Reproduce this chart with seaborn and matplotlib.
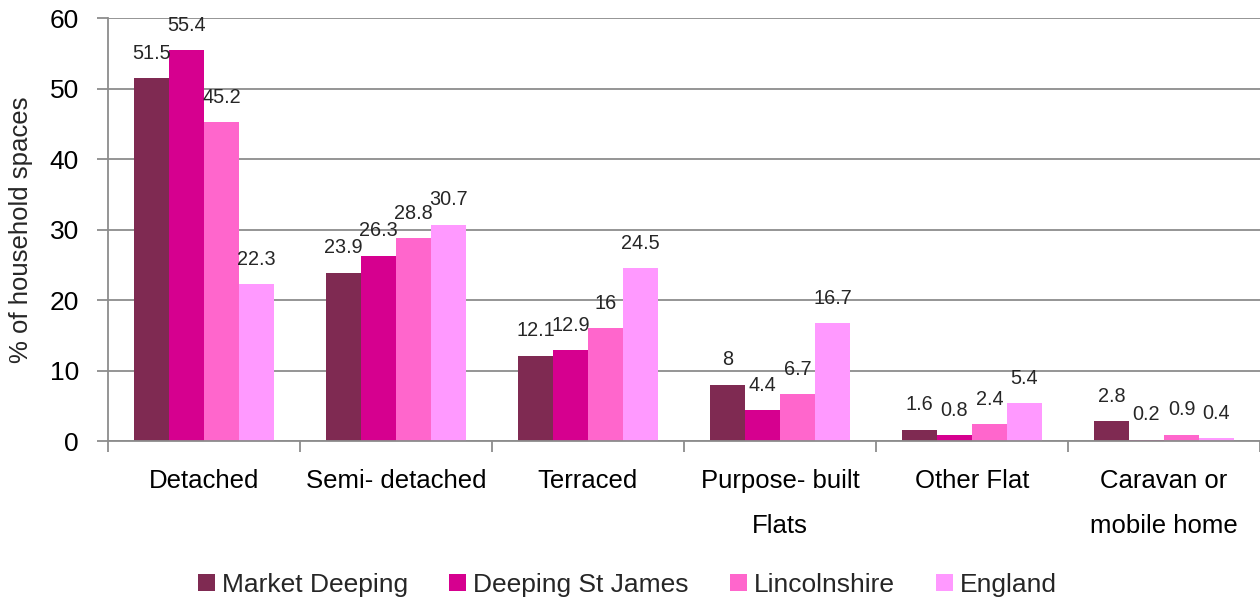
import matplotlib
matplotlib.use("Agg")
import matplotlib.pyplot as plt
import seaborn as sns
import pandas as pd
import numpy as np

categories = ["Detached", "Semi- detached", "Terraced", "Purpose- built\nFlats",
              "Other Flat", "Caravan or\nmobile home"]
areas = ["Market Deeping", "Deeping St James", "Lincolnshire", "England"]
market_deeping = [51.5, 23.9, 12.1, 8, 1.6, 2.8]
deeping_st_james = [55.4, 26.3, 12.9, 4.4, 0.8, 0.2]
lincolnshire = [45.2, 28.8, 16, 6.7, 2.4, 0.9]
england = [22.3, 30.7, 24.5, 16.7, 5.4, 0.4]
label_text = {
    "Market Deeping": ["51.5", "23.9", "12.1", "8", "1.6", "2.8"],
    "Deeping St James": ["55.4", "26.3", "12.9", "4.4", "0.8", "0.2"],
    "Lincolnshire": ["45.2", "28.8", "16", "6.7", "2.4", "0.9"],
    "England": ["22.3", "30.7", "24.5", "16.7", "5.4", "0.4"],
}
colors = ["#7F2A52", "#D6008F", "#FF66CC", "#FF99FF"]

series = [market_deeping, deeping_st_james, lincolnshire, england]
df = pd.DataFrame({
    "category": np.repeat([categories], len(areas), axis=0).ravel(),
    "area": np.repeat(areas, len(categories)),
    "value": np.concatenate(series),
})

sns.set_style("white")
plt.rcParams["font.family"] = ["Liberation Sans", "DejaVu Sans"]

fig = plt.figure(figsize=(12.6, 6.01), dpi=100)
ax = fig.add_axes([0.0857, 0.2662, 0.9143, 0.7038])

sns.barplot(data=df, x="category", y="value", hue="area", order=categories,
            hue_order=areas, palette=colors, width=0.73, saturation=1,
            edgecolor="none", linewidth=0, ax=ax, legend=True)

ax.set_ylim(0, 60)
ax.set_xlim(-0.5, len(categories) - 0.5)
ax.set_yticks(range(0, 61, 10))
ax.yaxis.grid(True, color="#8c8c8c", linewidth=1.3)
ax.set_axisbelow(True)

for sp in ["top", "right"]:
    ax.spines[sp].set_visible(False)
for sp in ["left", "bottom"]:
    ax.spines[sp].set_color("#8c8c8c")
    ax.spines[sp].set_linewidth(1.3)

ax.tick_params(axis="y", left=True, length=8, width=1.3, color="#8c8c8c",
               labelsize=19, pad=13, labelcolor="black")
ax.tick_params(axis="x", bottom=False, length=0, labelsize=18.5, pad=20.5,
               labelcolor="black")
ax.set_xticks(range(len(categories)), categories, linespacing=2.1, va="top")
ax.set_xticks(np.arange(-0.5, len(categories)), minor=True)
ax.tick_params(axis="x", which="minor", bottom=True, length=8, width=1.3,
               color="#8c8c8c")

ax.set_xlabel("")
ax.set_ylabel("% of household spaces", fontsize=18.5, labelpad=12)

for container, area in zip(ax.containers, areas):
    ax.bar_label(container, labels=label_text[area], padding=11, fontsize=14.3)

handles, labels = ax.get_legend_handles_labels()
ax.legend_.remove()
fig.legend(handles, labels, loc="center", bbox_to_anchor=(0.498, 0.027), ncol=4,
           frameon=False, fontsize=19, handlelength=0.65, handleheight=0.65,
           handletextpad=0.27, columnspacing=1.55)

fig.savefig("out.png", dpi=100)
